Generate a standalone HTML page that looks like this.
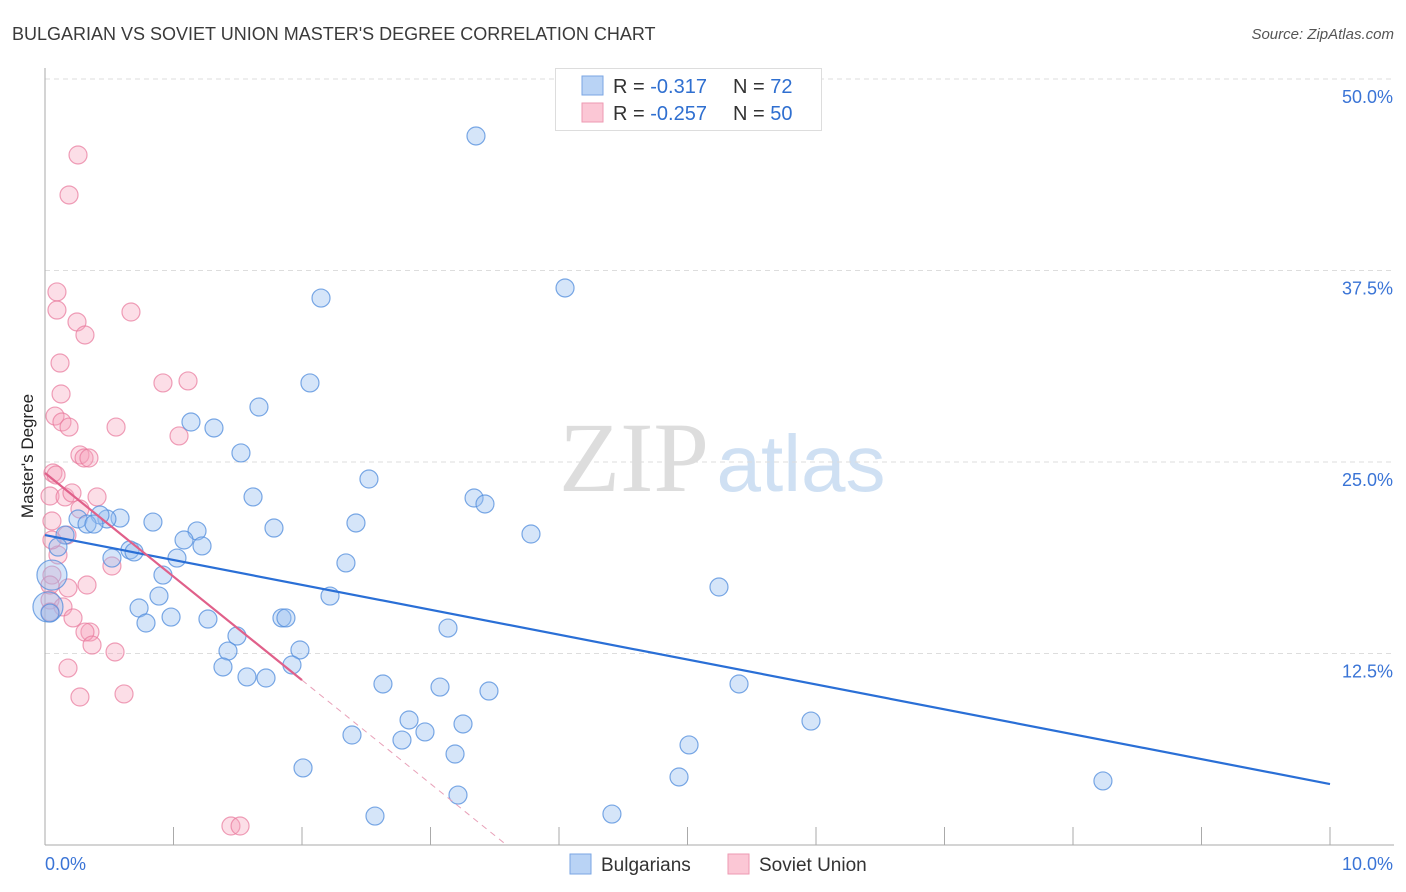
<!DOCTYPE html>
<html><head><meta charset="utf-8"><style>
body{margin:0;background:#fff;font-family:"Liberation Sans",sans-serif;}
svg{display:block}
</style></head><body>
<svg id="chart" width="1406" height="892">
<text x="12" y="40" font-size="18" fill="#3a3a3a">BULGARIAN VS SOVIET UNION MASTER'S DEGREE CORRELATION CHART</text>
<text x="1394" y="39" font-size="15" fill="#555" font-style="italic" text-anchor="end">Source: ZipAtlas.com</text>
<text x="0" y="0" font-size="17" fill="#222" text-anchor="middle" transform="translate(33,456) rotate(-90)">Master's Degree</text>
<g>
<text x="634" y="491" font-size="100" fill="#ddd" font-family="Liberation Serif,serif" text-anchor="middle">ZIP</text>
<text x="801" y="491" font-size="80" fill="#cfe0f3" text-anchor="middle">atlas</text>
</g>
<g id="grid"></g><g id="axes"></g><g id="pts"></g><g id="lines"></g>
<g>
<rect x="555.5" y="68.5" width="266" height="62" fill="#fff" stroke="#ddd"/>
<rect x="582" y="76" width="21" height="19" fill="#b9d3f5" stroke="#7aa6e3"/>
<rect x="582" y="103" width="21" height="19" fill="#fbc7d5" stroke="#ee9ab2"/>
<text x="613" y="93" font-size="20" fill="#333">R = <tspan fill="#2f6fd0"> -0.317</tspan></text>
<text x="733" y="93" font-size="20" fill="#333">N = <tspan fill="#2f6fd0"> 72</tspan></text>
<text x="613" y="120" font-size="20" fill="#333">R = <tspan fill="#2f6fd0">-0.257</tspan></text>
<text x="733" y="120" font-size="20" fill="#333">N = <tspan fill="#2f6fd0">50</tspan></text>
</g>
<g>
<rect x="570" y="854" width="21" height="20" fill="#b9d3f5" stroke="#7aa6e3"/>
<text x="601" y="871" font-size="19" fill="#333">Bulgarians</text>
<rect x="728" y="854" width="21" height="20" fill="#fbc7d5" stroke="#ee9ab2"/>
<text x="759" y="871" font-size="19" fill="#333">Soviet Union</text>
</g>
</svg>
<script>
const xTicks=[0,1,2,3,4,5,6,7,8,9,10];
const yTicks=[12.5,25,37.5,50];
const yTickLabels=["12.5%","25.0%","37.5%","50.0%"];
const xEndLabels=["0.0%","10.0%"];
const bulX=[3.354,4.047,2.148,2.062,1.665,1.136,1.315,1.525,2.521,1.619,3.339,3.424,0.840,2.420,1.782,3.782,0.584,0.482,0.428,0.257,0.327,0.381,0.156,0.101,1.183,1.082,1.222,0.661,0.521,0.693,1.027,2.342,0.918,5.245,2.218,0.887,0.732,0.981,0.786,1.268,1.844,1.875,3.136,1.494,1.424,1.984,1.922,1.385,1.572,1.720,2.630,3.074,3.455,5.401,2.833,5.961,3.253,2.389,2.957,2.778,3.191,5.012,2.008,4.934,8.233,3.214,2.568,4.412,0.054,0.023,0.039];
const bulY=[46.28,36.36,35.70,30.16,28.59,27.61,27.22,25.59,23.89,22.72,22.65,22.26,21.08,21.02,20.69,20.30,21.34,21.28,21.54,21.28,20.95,20.95,20.23,19.45,20.50,19.91,19.52,19.26,18.73,19.13,18.73,18.41,17.62,16.84,16.25,16.25,15.47,14.88,14.49,14.75,14.82,14.82,14.16,13.64,12.66,12.73,11.75,11.62,10.97,10.90,10.51,10.31,10.05,10.51,8.16,8.09,7.90,7.18,7.38,6.85,5.94,6.53,5.03,4.44,4.18,3.26,1.89,2.02,17.62,15.54,15.14];
const bulBig=[68,69];
const sovX=[0.257,0.187,0.093,0.093,0.669,0.249,0.311,0.117,0.918,1.113,0.125,0.078,0.132,0.187,0.553,1.043,0.272,0.304,0.342,0.062,0.086,0.039,0.156,0.210,0.405,0.272,0.054,0.171,0.101,0.521,0.054,0.327,0.179,0.039,0.140,0.039,0.218,0.350,0.311,0.366,0.545,0.179,0.272,0.615,1.447,1.518,0.039,0.054];
const sovY=[45.04,42.43,36.10,34.92,34.79,34.14,33.29,31.46,30.16,30.29,29.44,28.00,27.61,27.28,27.28,26.70,25.46,25.26,25.26,24.28,24.15,22.78,22.72,22.98,22.72,21.93,21.15,20.23,18.93,18.21,17.62,16.97,16.78,15.99,15.54,15.21,14.82,13.90,13.90,13.05,12.60,11.55,9.66,9.86,1.24,1.24,16.97,19.91];
const bulFit=[20.23,-1.625];
const sovFit=[24.28,-6.76];
const sovSolidEnd=[2.0];

const X=v=>45+128.5*v, Y=v=>845-15.32*v;
const NS="http://www.w3.org/2000/svg";
function mk(parent,tag,attrs){const e=document.createElementNS(NS,tag);for(const k in attrs)e.setAttribute(k,attrs[k]);document.getElementById(parent).appendChild(e);return e;}
yTicks.forEach((t,i)=>{
  const l=mk('grid','line',{x1:45,x2:1394,y1:Y(t),y2:Y(t),stroke:'#ddd','stroke-dasharray':'5,4'});
  
  
  const tx=mk('grid','text',{x:1393,y:Y(t)+24,'font-size':18,fill:'#3a74d6','text-anchor':'end'});
  tx.textContent=yTickLabels[i];
  
  
});
const ax=mk('axes','line',{x1:45,x2:1394,y1:845,y2:845,stroke:'#aaa'});


const ay=mk('axes','line',{x1:45,x2:45,y1:68,y2:845,stroke:'#aaa'});


xTicks.forEach(t=>{
  const l=mk('axes','line',{x1:X(t),x2:X(t),y1:827,y2:845,stroke:'#aaa'});
  
  
});
const xl0=mk('axes','text',{x:45,y:870,'font-size':18,fill:'#3a74d6'});xl0.textContent=xEndLabels[0];


const xl1=mk('axes','text',{x:1393,y:870,'font-size':18,fill:'#3a74d6','text-anchor':'end'});xl1.textContent=xEndLabels[1];


sovX.forEach((v,i)=>{
  const c=mk('pts','circle',{cx:X(v),cy:Y(sovY[i]),r:9,fill:'rgba(245,160,185,0.35)',stroke:'rgba(232,120,155,0.7)','stroke-width':1.2});
  
  
});
bulX.forEach((v,i)=>{
  const r=bulBig.includes(i)?15:9;
  const c=mk('pts','circle',{cx:X(v),cy:Y(bulY[i]),r:r,fill:'rgba(150,190,240,0.4)',stroke:'rgba(80,140,220,0.75)','stroke-width':1.2});
  
  
});
const bl=mk('lines','line',{x1:X(0),y1:Y(bulFit[0]),x2:X(10),y2:Y(bulFit[0]+bulFit[1]*10),stroke:'#2a6fd6','stroke-width':2.2});


const se=sovSolidEnd[0], zero=-sovFit[0]/sovFit[1];
const sl=mk('lines','line',{x1:X(0),y1:Y(sovFit[0]),x2:X(se),y2:Y(sovFit[0]+sovFit[1]*se),stroke:'#e0608a','stroke-width':2.2});


const sd=mk('lines','line',{x1:X(se),y1:Y(sovFit[0]+sovFit[1]*se),x2:X(zero),y2:Y(0),stroke:'#e8a0b8','stroke-width':1,'stroke-dasharray':'6,5'});


</script>
</body></html>
